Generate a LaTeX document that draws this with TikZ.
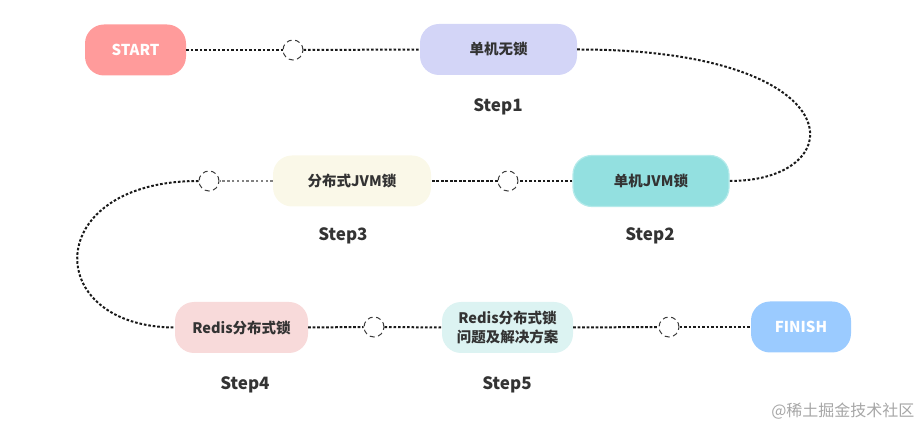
\documentclass[tikz,border=0pt]{standalone}
\usepackage{fontspec}
\setmainfont{Noto Sans CJK SC}
\definecolor{txt}{HTML}{333333}
\definecolor{cStart}{HTML}{FF9B9B}
\definecolor{cOne}{HTML}{D3D5F7}
\definecolor{cTwo}{HTML}{93E0E0}
\definecolor{cTwoB}{HTML}{B4EAEA}
\definecolor{cThree}{HTML}{FAF8E8}
\definecolor{cFour}{HTML}{F8DADA}
\definecolor{cFive}{HTML}{DCF3F2}
\definecolor{cFin}{HTML}{9BCBFF}
\definecolor{dotc}{HTML}{1A1A1A}
\begin{document}
\begin{tikzpicture}[x=1pt,y=-1pt,
  stepbox/.style={rounded corners=19pt, minimum height=51pt, inner sep=0pt,
     font=\fontsize{14.5}{19}\selectfont\bfseries, text=txt, align=center},
  endbox/.style={stepbox, text=white, font=\fontsize{15}{19}\selectfont\bfseries},
  steplbl/.style={font=\fontsize{17}{20}\selectfont\bfseries, text=txt},
  ring/.style={circle, draw=dotc!85, dash pattern=on 5pt off 3.5pt, line width=1pt, fill=white, minimum size=20pt, inner sep=0pt},
  link/.style={draw=dotc, line width=2pt, dash pattern=on 2.6pt off 1.9pt},
  lightlink/.style={draw=dotc!55, line width=1.4pt, dash pattern=on 2.4pt off 2.4pt}
]
\useasboundingbox (0,0) rectangle (924,427);
% nodes
\node[endbox, fill=cStart, minimum width=101pt] (start) at (135.5,50) {START};
\node[stepbox, fill=cOne, minimum width=157pt] (s1) at (498.5,49.5) {单机无锁};
\node[stepbox, fill=cTwo, draw=cTwoB, line width=1.2pt, minimum width=156pt] (s2) at (651,181) {单机JVM锁};
\node[stepbox, fill=cThree, minimum width=158pt] (s3) at (352,181) {分布式JVM锁};
\node[stepbox, fill=cFour, minimum width=133pt] (s4) at (241.5,327.5) {Redis分布式锁};
\node[stepbox, fill=cFive, minimum width=131pt] (s5) at (507.5,327.5) {Redis分布式锁\\问题及解决方案};
\node[endbox, fill=cFin, minimum width=100pt] (fin) at (801,327) {FINISH};
% step labels
\node[steplbl] (l1) at (498,107) {Step1};
\node[steplbl] (l2) at (650,236) {Step2};
\node[steplbl] (l3) at (343,236) {Step3};
\node[steplbl] (l4) at (245,385) {Step4};
\node[steplbl] (l5) at (507,385) {Step5};
% rings
\node[ring] (r1) at (293,50) {};
\node[ring] (r2) at (508,181) {};
\node[ring] (r3) at (209,181) {};
\node[ring] (r4) at (374,327) {};
\node[ring] (r5) at (669,327) {};
% connectors
\path[link] (start.east) -- (r1.west);
\path[link] (r1.east) -- (s1.west);
\path[link] (s1.east) .. controls (855,49) and (855,181) .. (s2.east);
\path[link] (s2.west) -- (r2.east);
\path[link] (r2.west) -- (s3.east);
\path[lightlink] (s3.west) -- (r3.east);
\path[link] (r3.west) .. controls (41,181) and (41,327) .. (s4.west);
\path[link] (s4.east) -- (r4.west);
\path[link] (r4.east) -- (s5.west);
\path[link] (s5.east) -- (r5.west);
\path[link] (r5.east) -- (fin.west);
% watermark
\node[text=black!35, font=\fontsize{16}{18}\selectfont, anchor=east] (wm) at (918,411) {@稀土掘金技术社区};
\end{tikzpicture}
\end{document}
